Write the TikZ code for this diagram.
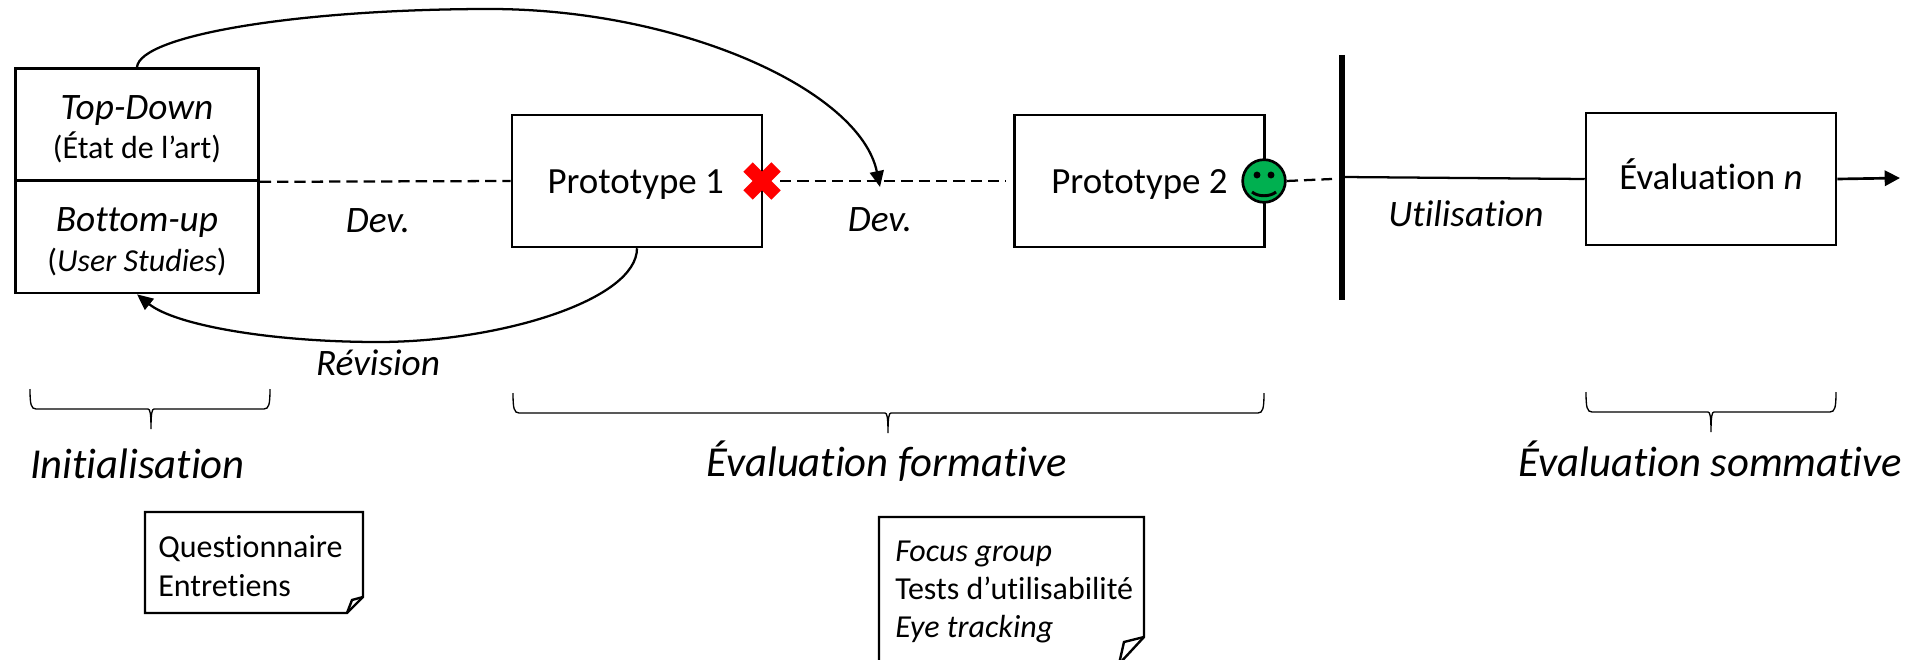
\documentclass[tikz,border=0pt]{standalone}
\usepackage{fontspec}
\setmainfont[Ligatures=NoCommon]{Carlito}
\usetikzlibrary{arrows.meta}
\usetikzlibrary{shapes.misc}
\definecolor{vert}{RGB}{0,176,80}
\newcommand{\taille}[1]{\fontsize{#1}{#1}\selectfont}

\begin{document}
\begin{tikzpicture}[%
x=0.75pt, y=-0.75pt,
>={Triangle[length=12pt,width=10.5pt]},
boite/.style={draw,line width=1.9pt,inner sep=0pt,minimum width=187.5pt,minimum height=99pt,font=\taille{27.7},text height=18pt,text depth=0pt},
moitie/.style={draw,line width=2pt,minimum width=182pt,minimum height=84pt,inner sep=0pt},
texte/.style={font=\taille{28}\itshape,inner sep=0pt,anchor=base},
soustexte/.style={font=\taille{24},inner sep=0pt,anchor=base},
titre/.style={font=\taille{32}\itshape,inner sep=0pt,anchor=base},
tiret/.style={dash pattern=on 8.5pt off 4.5pt,line width=1.7pt},
lien/.style={line width=1.7pt},
accolade/.style={line width=1pt},
feuille/.style={line width=1.8pt},
listing/.style={font=\taille{24},anchor=base west,inner sep=0pt}]
\useasboundingbox (0,0) rectangle (1907,660);
\clip (0,0) rectangle (1907,660);

\node [moitie] (topdown)  at (137,124.5) {};
\node [moitie] (bottomup) at (137,237)   {};
\node [texte]     (topdownA)  at (137,119) {Top-Down};
\node [soustexte] (topdownB)  at (137,158) {(État de l’art)};
\node [texte]     (bottomupA) at (137,231) {Bottom-up};
\node [soustexte] (bottomupB) at (137,271) {(\textit{User Studies})};

\node [boite] (proto1) at (637,181)  {\hspace*{-2pt}Prototype 1};
\node [boite] (proto2) at (1139.5,181) {Prototype 2};
\node [boite,text height=15pt] (evaln)  at (1711,179) {Évaluation \textit{n}};

\node [draw=red,cross out,line width=10pt,minimum size=11pt,inner sep=0pt] (croix) at (762,181) {};
\node [draw,circle,fill=vert,line width=2pt,minimum size=32pt,inner sep=0pt] (smiley) at (1264,181) {};
\fill (smiley.center) ++(-7,-6) circle (2.6pt) (smiley.center) ++(7,-6) circle (2.6pt);
\draw [line width=2.2pt] (smiley.center) ++(-12,11) .. controls +(6,5) and +(-6,5) .. +(24,0);

\coordinate (barreH) at (1341.5,55);
\coordinate (barreB) at (1341.5,300);
\coordinate (departU) at (1343,177);
\coordinate (sortie) at (1900,178);
\coordinate (cible)  at (880,187);
\coordinate (sommet) at (490,9);
\coordinate (creux)  at (378,342);
\coordinate (departA) at (780,181);
\coordinate (finA)   at (1006,181);
\coordinate (finB)   at (1332,179);

\draw [line width=4.5pt] (barreH) -- (barreB);
\draw [tiret] (topdown.south east) -- (proto1.west);
\draw [tiret] (departA) -- (finA);
\draw [tiret] (smiley.east) -- (finB);
\draw [lien]  (departU) -- (evaln.west);
\draw [lien,line width=2pt,-{Triangle[length=11.5pt,width=11.5pt]}] (evaln.east) -- (sortie);
\draw [lien,->] (topdown.north) .. controls (140,35) and (300,9) .. (sommet)
.. controls (680,9) and (860,90) .. (cible);
\draw [lien,->] (proto1.south) .. controls (637,300) and (500,342) .. (creux)
.. controls (270,342) and (175,325) .. (bottomup.south);

\node [texte] (dev1) at (378,232) {Dev.};
\node [texte] (dev2) at (880,231) {Dev.};
\node [texte] (revision) at (378,375) {Révision};
\node [texte] (utilisation) at (1466,226) {Utilisation};

\foreach \xa/\xb/\xc/\ya in {30/270/151/389, 513/1264/888/393, 1586/1836/1711/392}{
	\draw [accolade] (\xa,\ya) .. controls (\xa,\ya+15) and (\xa+1,\ya+20) .. (\xa+6,\ya+20)
	-- (\xc-3,\ya+20) .. controls (\xc-1,\ya+20) and (\xc,\ya+24) .. (\xc,\ya+40)
	.. controls (\xc,\ya+24) and (\xc+1,\ya+20) .. (\xc+3,\ya+20)
	-- (\xb-6,\ya+20) .. controls (\xb-1,\ya+20) and (\xb,\ya+15) .. (\xb,\ya);
}

\node [titre] (initialisation) at (137.5,478) {Initialisation};
\node [titre] (formative) at (886.5,476) {Évaluation formative};
\node [titre] (sommative) at (1710.5,476) {Évaluation sommative};

\draw [feuille] (145,512) -- (363,512) -- (363,597) -- (347,613) -- (145,613) -- cycle;
\draw [feuille] (347,613) -- (352,600) -- (363,597);
\node [listing] (questionnaire) at (158,557) {Questionnaire};
\node [listing] (entretiens) at (158,596.5) {Entretiens};

\draw [feuille] (879,670) -- (879,517) -- (1144,517) -- (1144,637) -- (1119,664);
\draw [feuille] (1119,664) -- (1124,642) -- (1144,637);
\node [listing] (focus) at (895,561) {\textit{Focus group}};
\node [listing] (tests) at (895,599) {Tests d’utilisabilité};
\node [listing] (eye) at (895,637) {\textit{Eye tracking}};
\end{tikzpicture}
\end{document}
